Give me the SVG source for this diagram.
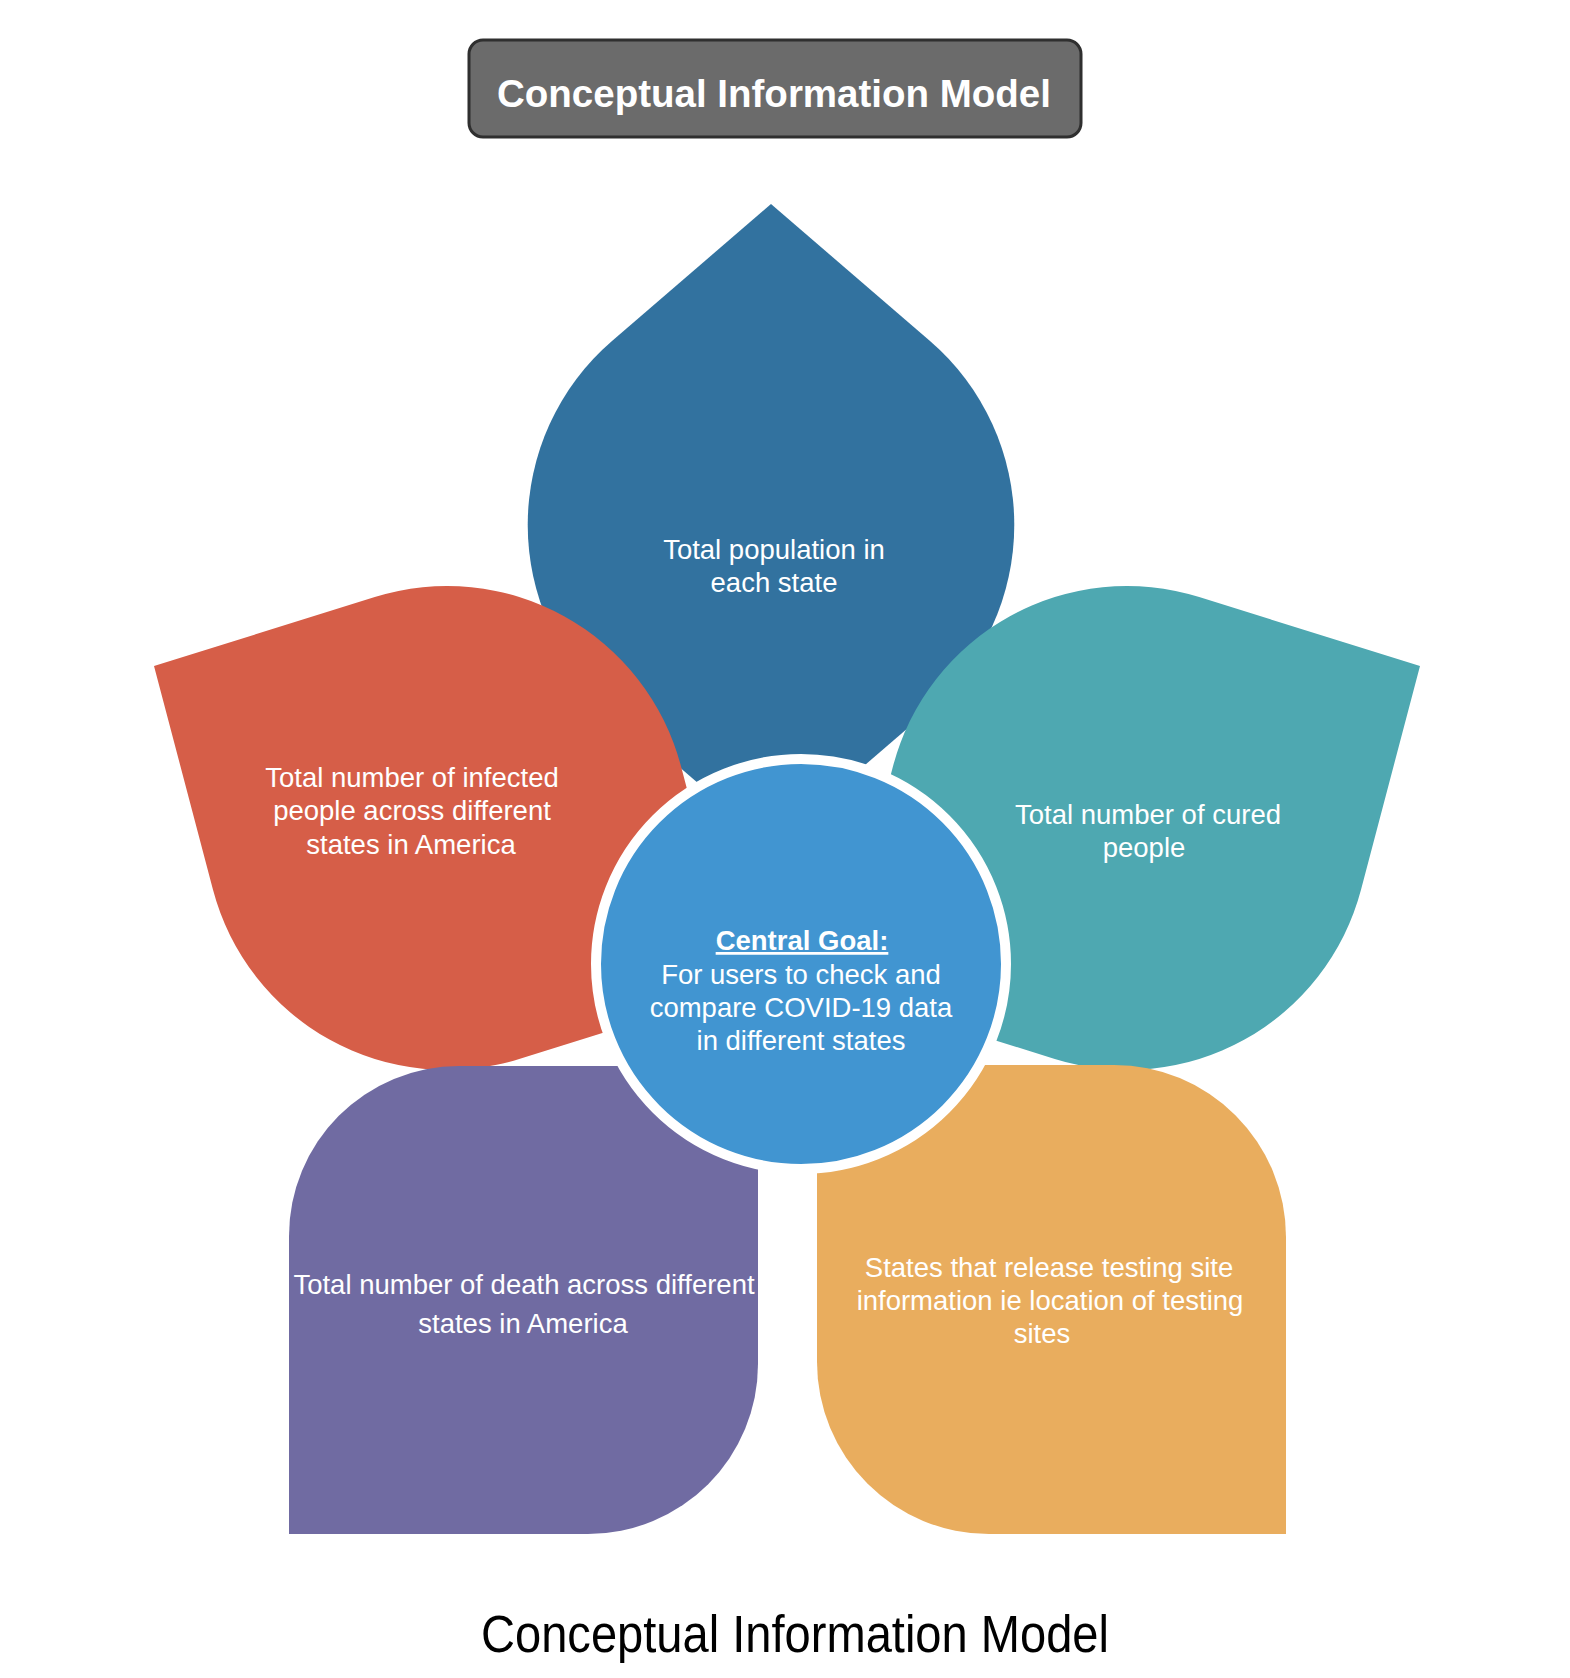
<svg xmlns="http://www.w3.org/2000/svg" width="1570" height="1678" viewBox="0 0 1570 1678">
  <style>
    .lbl { font-family: "Liberation Sans", Arial, Helvetica, sans-serif; font-size: 27.5px; fill: #ffffff; text-anchor: middle; }
    .title { font-family: "Liberation Sans", Arial, Helvetica, sans-serif; font-size: 38.5px; font-weight: bold; fill: #ffffff; text-anchor: middle; }
    .caption { font-family: "Liberation Sans", Arial, Helvetica, sans-serif; font-size: 51px; fill: #000000; text-anchor: middle; }
    .goal { font-weight: bold; text-decoration: underline; }
  </style>
  <rect x="0" y="0" width="1570" height="1678" fill="#ffffff"/>

  <g id="title">
    <rect x="469" y="40" width="612" height="97" rx="14" ry="14" fill="#6b6b6b" stroke="#2f2f2f" stroke-width="3"/>
    <text class="title" x="774" y="107">Conceptual Information Model</text>
  </g>

  <g id="petal-population">
    <path d="M 771,204 L 930,341 A 243 243 0 0 1 930,709 L 771,846 L 612,709 A 243 243 0 0 1 612,341 Z" fill="#32729f"/>
    <text class="lbl" x="774" y="559">Total population in</text>
    <text class="lbl" x="774" y="592">each state</text>
  </g>

  <g id="petal-infected">
    <path d="M 154,666 L 374.8,597 A 242 242 0 0 1 681,766.3 L 740,990 L 519.2,1059 A 242 242 0 0 1 213,889.7 Z" fill="#d65e48"/>
    <text class="lbl" x="412" y="787">Total number of infected</text>
    <text class="lbl" x="412" y="820">people across different</text>
    <text class="lbl" x="411" y="854">states in America</text>
  </g>

  <g id="petal-cured">
    <path d="M 1420,666 L 1199.2,597 A 242 242 0 0 0 893,766.3 L 834,990 L 1054.8,1059 A 242 242 0 0 0 1361,889.7 Z" fill="#4ea8b1"/>
    <text class="lbl" x="1148" y="824">Total number of cured</text>
    <text class="lbl" x="1144" y="857">people</text>
  </g>

  <g id="petal-death">
    <path d="M 289,1534 L 289,1236 A 170 170 0 0 1 459,1066 L 758,1066 L 758,1364 A 170 170 0 0 1 588,1534 Z" fill="#706ba2"/>
    <text class="lbl" x="524" y="1294">Total number of death across different</text>
    <text class="lbl" x="523" y="1333">states in America</text>
  </g>

  <g id="petal-testing">
    <path d="M 817,1065 L 1114,1065 A 172 172 0 0 1 1286,1237 L 1286,1534 L 989,1534 A 172 172 0 0 1 817,1362 Z" fill="#e9ad5e"/>
    <text class="lbl" x="1049" y="1277">States that release testing site</text>
    <text class="lbl" x="1050" y="1310">information ie location of testing</text>
    <text class="lbl" x="1042" y="1343">sites</text>
  </g>

  <g id="central-goal">
    <circle cx="801" cy="964" r="205" fill="#4195d1" stroke="#ffffff" stroke-width="10"/>
    <text class="lbl goal" x="802" y="950">Central Goal:</text>
    <text class="lbl" x="801" y="984">For users to check and</text>
    <text class="lbl" x="801" y="1017">compare COVID-19 data</text>
    <text class="lbl" x="801" y="1050">in different states</text>
  </g>

  <g id="caption">
    <text class="caption" x="795" y="1652" textLength="628" lengthAdjust="spacingAndGlyphs">Conceptual Information Model</text>
  </g>
</svg>
